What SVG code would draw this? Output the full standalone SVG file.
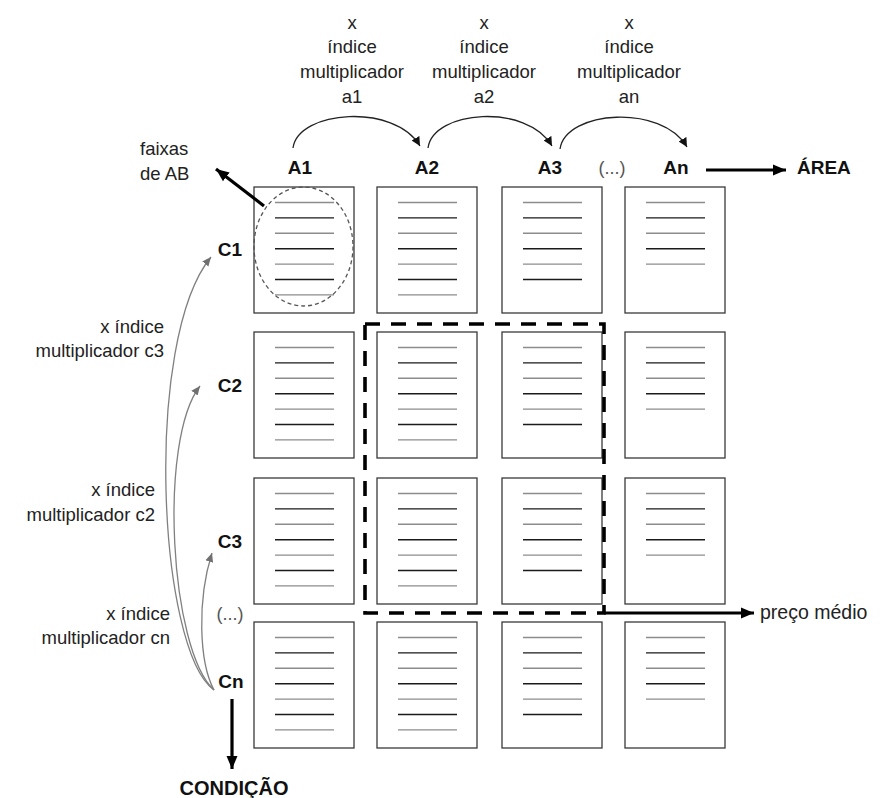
<svg xmlns="http://www.w3.org/2000/svg" xmlns:xlink="http://www.w3.org/1999/xlink" width="887" height="798" viewBox="0 0 887 798">
<style>
  .box { fill: #fff; stroke: #3a3a3a; stroke-width: 1.3; }
  .lg { stroke: #8c8c8c; stroke-width: 1.4; }
  .lb { stroke: #1a1a1a; stroke-width: 1.4; }
  .lbl { font-family: "Liberation Sans", Arial, sans-serif; font-size: 18.5px; fill: #222; }
  .hdr { font-family: "Liberation Sans", Arial, sans-serif; font-size: 19px; font-weight: bold; fill: #111; }
  .dim { font-family: "Liberation Sans", Arial, sans-serif; font-size: 18px; fill: #555; }
  .arc { fill: none; stroke: #222; stroke-width: 1.3; }
  .garc { fill: none; stroke: #808080; stroke-width: 1.3; }
  .thick { fill: none; stroke: #000; stroke-width: 3.2; }
</style>
<defs>
  <marker id="ah" markerUnits="userSpaceOnUse" markerWidth="10" markerHeight="10" refX="9" refY="5" orient="auto">
    <path d="M0,0.5 L9,5 L0,9.5 z" fill="#111"/>
  </marker>
  <marker id="gah" markerUnits="userSpaceOnUse" markerWidth="10" markerHeight="10" refX="9" refY="5" orient="auto">
    <path d="M0,1 L9,5 L0,9 z" fill="#707070"/>
  </marker>
  <marker id="tah" markerUnits="userSpaceOnUse" markerWidth="14" markerHeight="12" refX="13" refY="6" orient="auto">
    <path d="M0,0.5 L13,6 L0,11.5 z" fill="#000"/>
  </marker>
  <g id="l5">
    <line class="lg" x1="21" y1="15.5" x2="80" y2="15.5"/>
    <line class="lb" x1="21" y1="30.9" x2="80" y2="30.9"/>
    <line class="lg" x1="21" y1="46.3" x2="80" y2="46.3"/>
    <line class="lb" x1="21" y1="61.7" x2="80" y2="61.7"/>
    <line class="lg" x1="21" y1="77.1" x2="80" y2="77.1"/>
  </g>
  <g id="l6">
    <use xlink:href="#l5"/>
    <line class="lb" x1="21" y1="92.5" x2="80" y2="92.5"/>
  </g>
  <g id="l7">
    <use xlink:href="#l6"/>
    <line class="lg" x1="21" y1="107.9" x2="80" y2="107.9"/>
  </g>
</defs>

<rect width="887" height="798" fill="#fff"/>

<!-- top multiplier labels -->
<g id="label-a1" class="lbl" text-anchor="middle">
  <text x="352" y="29">x</text>
  <text x="352" y="53">índice</text>
  <text x="352" y="78">multiplicador</text>
  <text x="352" y="103">a1</text>
</g>
<g id="label-a2" class="lbl" text-anchor="middle">
  <text x="484" y="29">x</text>
  <text x="484" y="53">índice</text>
  <text x="484" y="78">multiplicador</text>
  <text x="484" y="103">a2</text>
</g>
<g id="label-an" class="lbl" text-anchor="middle">
  <text x="629" y="29">x</text>
  <text x="629" y="53">índice</text>
  <text x="629" y="78">multiplicador</text>
  <text x="629" y="103">an</text>
</g>

<!-- column headers -->
<g id="hdr-A1"><text class="hdr" x="300" y="174" text-anchor="middle">A1</text></g>
<g id="hdr-A2"><text class="hdr" x="427" y="174" text-anchor="middle">A2</text></g>
<g id="hdr-A3"><text class="hdr" x="550" y="174" text-anchor="middle">A3</text></g>
<g id="hdr-Aetc"><text class="dim" x="612" y="174" text-anchor="middle">(...)</text></g>
<g id="hdr-An"><text class="hdr" x="676" y="174" text-anchor="middle">An</text></g>
<g id="area"><text class="hdr" x="797" y="174">ÁREA</text></g>

<g id="faixas" class="lbl">
  <text x="140" y="155">faixas</text>
  <text x="140" y="180">de AB</text>
</g>

<!-- row headers -->
<g id="hdr-C1"><text class="hdr" x="230" y="256" text-anchor="middle">C1</text></g>
<g id="hdr-C2"><text class="hdr" x="230" y="392" text-anchor="middle">C2</text></g>
<g id="hdr-C3"><text class="hdr" x="230" y="548" text-anchor="middle">C3</text></g>
<g id="hdr-Cetc"><text class="dim" x="230" y="620" text-anchor="middle">(...)</text></g>
<g id="hdr-Cn"><text class="hdr" x="231" y="688" text-anchor="middle">Cn</text></g>
<g id="condicao"><text class="hdr" x="234" y="795" text-anchor="middle" style="font-size:20px">CONDIÇÃO</text></g>

<g id="label-c3" class="lbl" text-anchor="end">
  <text x="164" y="333">x índice</text>
  <text x="164" y="357">multiplicador c3</text>
</g>
<g id="label-c2" class="lbl" text-anchor="end">
  <text x="155" y="496">x índice</text>
  <text x="155" y="521">multiplicador c2</text>
</g>
<g id="label-cn" class="lbl" text-anchor="end">
  <text x="170" y="620">x índice</text>
  <text x="170" y="644">multiplicador cn</text>
</g>

<g id="preco"><text class="lbl" x="760" y="619" style="font-size:19.5px">preço médio</text></g>

<!-- grid cells -->
<g id="cell-r1c1"><rect class="box" x="254" y="187" width="100" height="126"/><use xlink:href="#l7" x="254" y="187"/></g>
<g id="cell-r1c2"><rect class="box" x="377" y="187" width="100" height="126"/><use xlink:href="#l7" x="377" y="187"/></g>
<g id="cell-r1c3"><rect class="box" x="502" y="187" width="100" height="126"/><use xlink:href="#l6" x="502" y="187"/></g>
<g id="cell-r1c4"><rect class="box" x="625" y="187" width="100" height="126"/><use xlink:href="#l5" x="625" y="187"/></g>

<g id="cell-r2c1"><rect class="box" x="254" y="332" width="100" height="126"/><use xlink:href="#l7" x="254" y="332"/></g>
<g id="cell-r2c2"><rect class="box" x="377" y="332" width="100" height="126"/><use xlink:href="#l7" x="377" y="332"/></g>
<g id="cell-r2c3"><rect class="box" x="502" y="332" width="100" height="126"/><use xlink:href="#l6" x="502" y="332"/></g>
<g id="cell-r2c4"><rect class="box" x="625" y="332" width="100" height="126"/><use xlink:href="#l5" x="625" y="332"/></g>

<g id="cell-r3c1"><rect class="box" x="254" y="478" width="100" height="126"/><use xlink:href="#l7" x="254" y="478"/></g>
<g id="cell-r3c2"><rect class="box" x="377" y="478" width="100" height="126"/><use xlink:href="#l7" x="377" y="478"/></g>
<g id="cell-r3c3"><rect class="box" x="502" y="478" width="100" height="126"/><use xlink:href="#l6" x="502" y="478"/></g>
<g id="cell-r3c4"><rect class="box" x="625" y="478" width="100" height="126"/><use xlink:href="#l5" x="625" y="478"/></g>

<g id="cell-r4c1"><rect class="box" x="254" y="622" width="100" height="126"/><use xlink:href="#l7" x="254" y="622"/></g>
<g id="cell-r4c2"><rect class="box" x="377" y="622" width="100" height="126"/><use xlink:href="#l7" x="377" y="622"/></g>
<g id="cell-r4c3"><rect class="box" x="502" y="622" width="100" height="126"/><use xlink:href="#l6" x="502" y="622"/></g>
<g id="cell-r4c4"><rect class="box" x="625" y="622" width="100" height="126"/><use xlink:href="#l5" x="625" y="622"/></g>

<!-- highlight shapes -->
<g id="faixas-ellipse">
  <ellipse cx="303.5" cy="246.5" rx="49.5" ry="59.5" fill="none" stroke="#555" stroke-width="1.3" stroke-dasharray="4 3"/>
</g>
<g id="media-region">
  <rect x="365" y="324" width="239" height="289" fill="none" stroke="#000" stroke-width="3.6" stroke-dasharray="15 11"/>
</g>

<!-- connectors -->
<g id="connectors">
  <path class="arc" d="M293 148 C298 110 395 103 420 146" marker-end="url(#ah)"/>
  <path class="arc" d="M428 148 C433 110 527 103 552 146" marker-end="url(#ah)"/>
  <path class="arc" d="M560 149 C566 110 662 104 687 147" marker-end="url(#ah)"/>
  <line class="thick" x1="706" y1="170" x2="786" y2="170" marker-end="url(#tah)"/>
  <line class="thick" x1="264" y1="206" x2="216" y2="169" marker-end="url(#tah)"/>
  <line class="thick" x1="604" y1="613" x2="754" y2="613" marker-end="url(#tah)"/>
  <line class="thick" x1="232" y1="699" x2="232" y2="769" marker-end="url(#tah)"/>
  <path class="garc" d="M214 690 C158 650 143 340 211 257" marker-end="url(#gah)"/>
  <path class="garc" d="M214 690 C170 650 158 440 200 386" marker-end="url(#gah)"/>
  <path class="garc" d="M214 690 C199 662 197 600 212 553" marker-end="url(#gah)"/>
</g>
</svg>
